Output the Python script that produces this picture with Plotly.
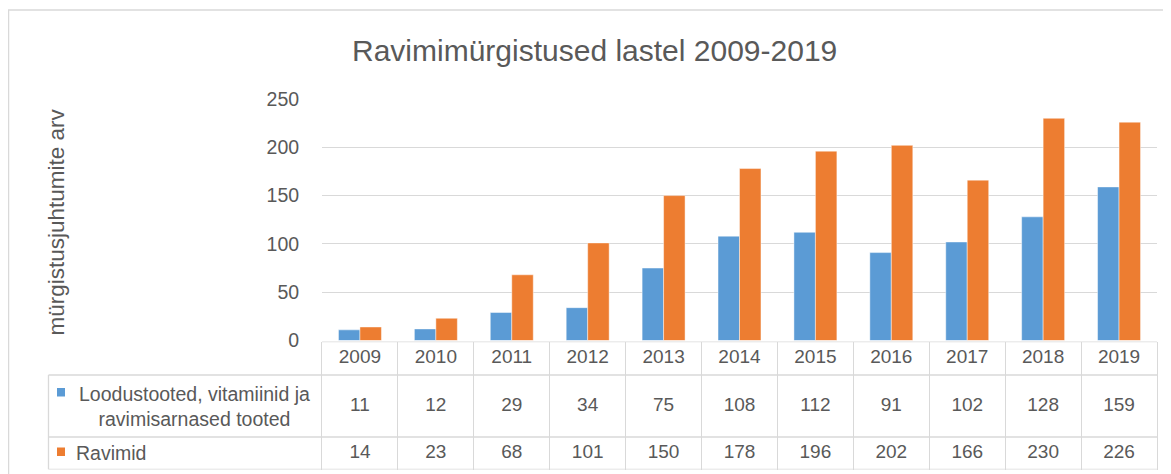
import plotly.graph_objects as go

years = ["2009", "2010", "2011", "2012", "2013", "2014", "2015", "2016", "2017", "2018", "2019"]
loodus = [11, 12, 29, 34, 75, 108, 112, 91, 102, 128, 159]
ravimid = [14, 23, 68, 101, 150, 178, 196, 202, 166, 230, 226]
name_loodus = "Loodustooted, vitamiinid ja<br>ravimisarnased tooted"
name_ravimid = "Ravimid"
title_text = "Ravimimürgistused lastel 2009-2019"
y_title = "mürgistusjuhtumite arv"
y_ticks = [0, 50, 100, 150, 200, 250]

OFF = 8  # page body margin
W, H = 1171 - OFF, 474 - OFF
def PX(x): return (x - OFF) / W
def PY(y): return 1 - (y - OFF) / H

BLUE = "#5B9BD5"
ORANGE = "#ED7D31"
TXT = "#595959"
GRID = "#D9D9D9"
FONT = "Liberation Sans"

# table geometry (y2 units = pixels from table bottom)
T_TOP, T_R1, T_R2, T_BOT = 341.5, 375, 437, 469.5
tab_h = T_BOT - T_TOP
yr_y = T_BOT - (T_TOP + T_R1) / 2
s1_y = T_BOT - (T_R1 + T_R2) / 2
s2_y = T_BOT - (T_R2 + T_BOT) / 2

fig = go.Figure()
fig.add_trace(go.Bar(x=years, y=loodus, name="loodus", marker_color=BLUE,
                     marker_line=dict(color="rgba(255,255,255,0.45)", width=1),
                     xaxis="x", yaxis="y", showlegend=False, hoverinfo="x+y"))
fig.add_trace(go.Bar(x=years, y=ravimid, name="ravimid", marker_color=ORANGE,
                     marker_line=dict(color="rgba(255,255,255,0.45)", width=1),
                     xaxis="x", yaxis="y", showlegend=False, hoverinfo="x+y"))

tf = dict(family=FONT, size=19, color=TXT)
fig.add_trace(go.Scatter(x=years, y=[yr_y] * len(years), text=years, mode="text",
                         textfont=tf, xaxis="x2", yaxis="y2", showlegend=False, hoverinfo="skip"))
fig.add_trace(go.Scatter(x=years, y=[s1_y] * len(years), text=[str(v) for v in loodus], mode="text",
                         textfont=tf, xaxis="x2", yaxis="y2", showlegend=False, hoverinfo="skip"))
fig.add_trace(go.Scatter(x=years, y=[s2_y] * len(years), text=[str(v) for v in ravimid], mode="text",
                         textfont=tf, xaxis="x2", yaxis="y2", showlegend=False, hoverinfo="skip"))

xdom = [PX(322), PX(1157)]
shapes = []
line = dict(color=GRID, width=1.3)
# outer chart border
shapes.append(dict(type="rect", xref="paper", yref="paper", x0=PX(8.5), x1=PX(1185),
                   y0=PY(490), y1=PY(10), line=dict(color=GRID, width=1.5), layer="below"))
# table horizontal lines
shapes.append(dict(type="line", xref="paper", yref="y2", x0=xdom[0], x1=xdom[1], y0=tab_h, y1=tab_h, line=line))
for yv in [T_BOT - T_R1, T_BOT - T_R2, 0]:
    shapes.append(dict(type="line", xref="paper", yref="y2", x0=PX(48.5), x1=xdom[1], y0=yv, y1=yv, line=line))
# label column left border
shapes.append(dict(type="line", xref="paper", yref="y2", x0=PX(48.5), x1=PX(48.5), y0=0, y1=T_BOT - T_R1, line=line))
# legend keys
shapes.append(dict(type="rect", xref="paper", yref="paper", x0=PX(57), x1=PX(65), y0=PY(396.5), y1=PY(388),
                   fillcolor=BLUE, line=dict(width=0)))
shapes.append(dict(type="rect", xref="paper", yref="paper", x0=PX(57), x1=PX(65), y0=PY(456), y1=PY(447.5),
                   fillcolor=ORANGE, line=dict(width=0)))

annotations = [
    dict(text=title_text, xref="paper", yref="paper", x=PX(594), y=PY(51), xanchor="center", yanchor="middle",
         showarrow=False, font=dict(family=FONT, size=30, color=TXT)),
    dict(text=y_title, xref="paper", yref="paper", x=PX(56), y=PY(222.5), xanchor="center", yanchor="middle",
         textangle=-90, showarrow=False, font=dict(family=FONT, size=22.5, color=TXT)),
    dict(text=name_loodus, xref="paper", yref="y2", x=PX(194.5), y=s1_y, xanchor="center", yanchor="middle",
         showarrow=False, align="center", font=dict(family=FONT, size=19.5, color=TXT)),
    dict(text=name_ravimid, xref="paper", yref="y2", x=PX(74), y=s2_y, xanchor="left", yanchor="middle",
         showarrow=False, align="left", font=dict(family=FONT, size=19.5, color=TXT)),
]

fig.update_layout(
    width=W, height=H, margin=dict(l=0, r=0, t=0, b=0, pad=0, autoexpand=False),
    paper_bgcolor="white", plot_bgcolor="white",
    barmode="group", bargap=0.434, bargroupgap=0,
    font=dict(family=FONT, color=TXT),
    xaxis=dict(domain=xdom, type="category", range=[-0.5, 10.5], showticklabels=False,
               showgrid=False, zeroline=False, showline=False, ticks="", anchor="y", automargin=False),
    yaxis=dict(domain=[PY(340.5), PY(99)], range=[0, 250], tickvals=y_ticks, showgrid=True,
               gridcolor=GRID, gridwidth=1.3, zeroline=False, showline=False,
               ticks="outside", ticklen=18, tickcolor="rgba(0,0,0,0)",
               tickfont=dict(family=FONT, size=19.5, color=TXT), anchor="x", automargin=False),
    xaxis2=dict(domain=xdom, matches="x", type="category", showticklabels=False,
                showgrid=True, gridcolor=GRID, gridwidth=1.3, tickson="boundaries", ticks="",
                zeroline=False, showline=False, anchor="y2", automargin=False),
    yaxis2=dict(domain=[PY(T_BOT), PY(T_TOP)], range=[0, tab_h], showticklabels=False, showgrid=False,
                zeroline=False, showline=True, mirror=True, linecolor=GRID, linewidth=1.3, anchor="x2",
                automargin=False),
    shapes=shapes, annotations=annotations,
)

fig.write_html("out.html")
